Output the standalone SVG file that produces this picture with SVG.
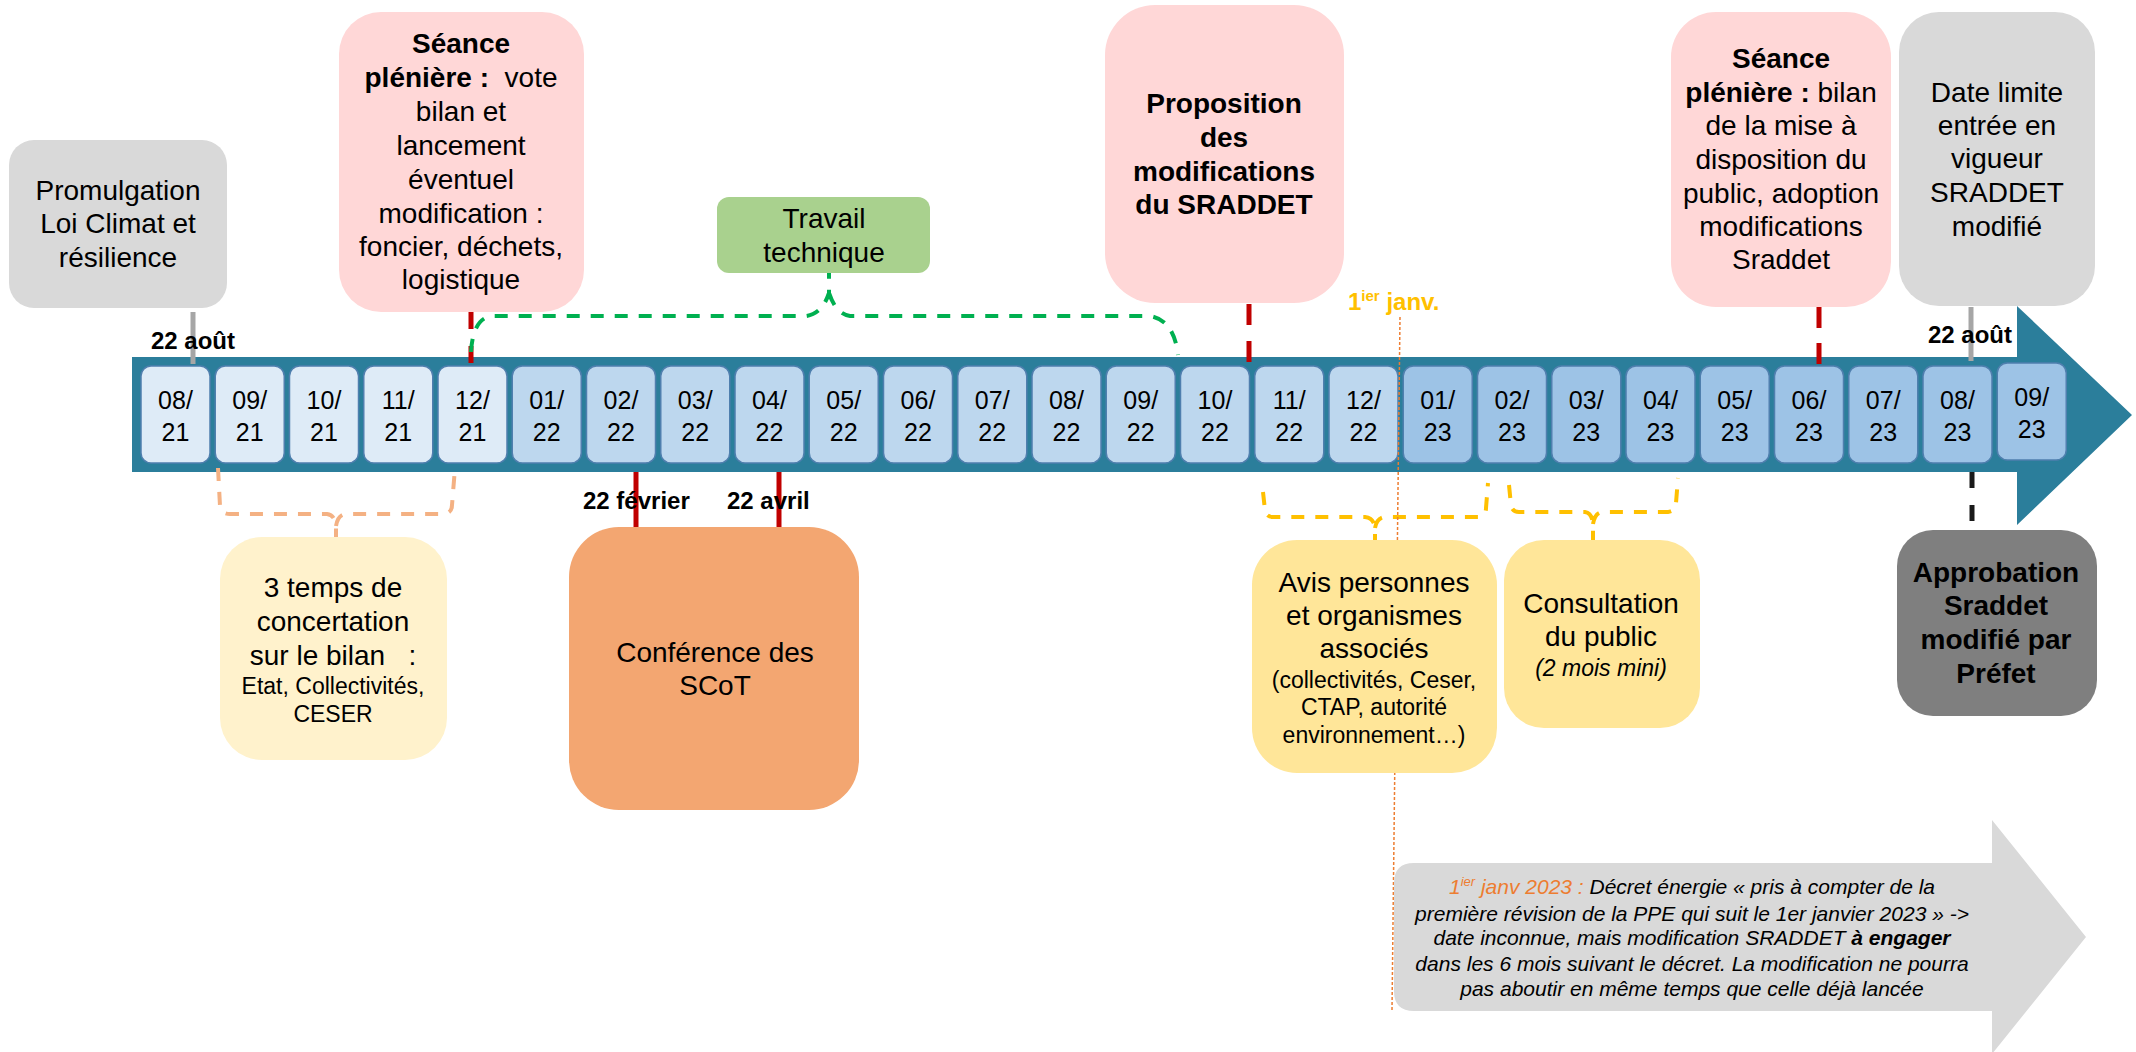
<svg xmlns="http://www.w3.org/2000/svg" width="2136" height="1052" viewBox="0 0 2136 1052">
<style>
text{font-family:"Liberation Sans",Arial,sans-serif;fill:#000}
.t28{font-size:28px;text-anchor:middle}
.t23{font-size:23px;text-anchor:middle}
.b{font-weight:bold}
.cell text{font-size:25px;text-anchor:middle}
.c21{fill:#deebf7;stroke:#4f7fae;stroke-width:1.5}
.c22{fill:#bdd7ee;stroke:#4f7fae;stroke-width:1.5}
.c23{fill:#9dc3e6;stroke:#4f7fae;stroke-width:1.5}
.red{stroke:#c00000;stroke-width:5;fill:none}
.gry{stroke:#a6a6a6;stroke-width:5;fill:none}
.blk{stroke:#1a1a1a;stroke-width:5;fill:none;stroke-dasharray:16 17}
.br{fill:none;stroke-width:4;stroke-dasharray:13 11}
.lbl{font-size:24px;font-weight:bold}
</style>

<g id="timeline">
<path d="M132,357 L2017,357 L2017,306 L2132,415 L2017,525 L2017,472 L132,472 Z" fill="#2b7e9b"/>
<g class="cell">
<rect class="c21" x="141" y="366" width="69" height="97" rx="10"/><text x="175.5" y="409">08/</text><text x="175.5" y="441">21</text>
<rect class="c21" x="215.25" y="366" width="69" height="97" rx="10"/><text x="249.75" y="409">09/</text><text x="249.75" y="441">21</text>
<rect class="c21" x="289.5" y="366" width="69" height="97" rx="10"/><text x="324" y="409">10/</text><text x="324" y="441">21</text>
<rect class="c21" x="363.75" y="366" width="69" height="97" rx="10"/><text x="398.25" y="409">11/</text><text x="398.25" y="441">21</text>
<rect class="c21" x="438" y="366" width="69" height="97" rx="10"/><text x="472.5" y="409">12/</text><text x="472.5" y="441">21</text>
<rect class="c22" x="512.25" y="366" width="69" height="97" rx="10"/><text x="546.75" y="409">01/</text><text x="546.75" y="441">22</text>
<rect class="c22" x="586.5" y="366" width="69" height="97" rx="10"/><text x="621" y="409">02/</text><text x="621" y="441">22</text>
<rect class="c22" x="660.75" y="366" width="69" height="97" rx="10"/><text x="695.25" y="409">03/</text><text x="695.25" y="441">22</text>
<rect class="c22" x="735" y="366" width="69" height="97" rx="10"/><text x="769.5" y="409">04/</text><text x="769.5" y="441">22</text>
<rect class="c22" x="809.25" y="366" width="69" height="97" rx="10"/><text x="843.75" y="409">05/</text><text x="843.75" y="441">22</text>
<rect class="c22" x="883.5" y="366" width="69" height="97" rx="10"/><text x="918" y="409">06/</text><text x="918" y="441">22</text>
<rect class="c22" x="957.75" y="366" width="69" height="97" rx="10"/><text x="992.25" y="409">07/</text><text x="992.25" y="441">22</text>
<rect class="c22" x="1032" y="366" width="69" height="97" rx="10"/><text x="1066.5" y="409">08/</text><text x="1066.5" y="441">22</text>
<rect class="c22" x="1106.25" y="366" width="69" height="97" rx="10"/><text x="1140.75" y="409">09/</text><text x="1140.75" y="441">22</text>
<rect class="c22" x="1180.5" y="366" width="69" height="97" rx="10"/><text x="1215" y="409">10/</text><text x="1215" y="441">22</text>
<rect class="c22" x="1254.75" y="366" width="69" height="97" rx="10"/><text x="1289.25" y="409">11/</text><text x="1289.25" y="441">22</text>
<rect class="c22" x="1329" y="366" width="69" height="97" rx="10"/><text x="1363.5" y="409">12/</text><text x="1363.5" y="441">22</text>
<rect class="c23" x="1403.25" y="366" width="69" height="97" rx="10"/><text x="1437.75" y="409">01/</text><text x="1437.75" y="441">23</text>
<rect class="c23" x="1477.5" y="366" width="69" height="97" rx="10"/><text x="1512" y="409">02/</text><text x="1512" y="441">23</text>
<rect class="c23" x="1551.75" y="366" width="69" height="97" rx="10"/><text x="1586.25" y="409">03/</text><text x="1586.25" y="441">23</text>
<rect class="c23" x="1626" y="366" width="69" height="97" rx="10"/><text x="1660.5" y="409">04/</text><text x="1660.5" y="441">23</text>
<rect class="c23" x="1700.25" y="366" width="69" height="97" rx="10"/><text x="1734.75" y="409">05/</text><text x="1734.75" y="441">23</text>
<rect class="c23" x="1774.5" y="366" width="69" height="97" rx="10"/><text x="1809" y="409">06/</text><text x="1809" y="441">23</text>
<rect class="c23" x="1848.75" y="366" width="69" height="97" rx="10"/><text x="1883.25" y="409">07/</text><text x="1883.25" y="441">23</text>
<rect class="c23" x="1923" y="366" width="69" height="97" rx="10"/><text x="1957.5" y="409">08/</text><text x="1957.5" y="441">23</text>
<rect class="c23" x="1997.25" y="363" width="69" height="97" rx="10"/><text x="2031.75" y="406">09/</text><text x="2031.75" y="438">23</text>
</g>
</g>

<g id="connectors">
<line class="gry" x1="193" y1="312" x2="193" y2="364"/>
<line class="red" x1="471" y1="312" x2="471" y2="364" stroke-dasharray="17 17"/>
<line class="red" x1="1249" y1="304" x2="1249" y2="362" stroke-dasharray="21 16"/>
<line class="red" x1="1819" y1="307" x2="1819" y2="364" stroke-dasharray="21 15"/>
<line class="gry" x1="1971" y1="307" x2="1971" y2="361"/>
<line class="red" x1="636" y1="472" x2="636" y2="529"/>
<line class="red" x1="779" y1="472" x2="779" y2="529"/>
<line class="blk" x1="1972" y1="472" x2="1972" y2="526"/>
<path class="br" stroke="#00b050" d="M471,352 Q473,318 492,316 L806,316 Q822,314 829,293 L829,273 M829,293 Q836,314 850,316 L1150,316 Q1174,320 1178,355"/>
<path class="br" stroke="#f4b183" d="M218,468 L220,506 Q221,514 230,514 L327,514 Q335,515 336,526 L336,537 M336,526 Q338,514 347,514 L444,514 Q452,513 452,505 L455,468"/>
<path class="br" stroke="#ffc000" d="M1263,492 L1265,510 Q1266,517 1273,517 L1365,517 Q1374,518 1375,528 L1375,540 M1375,528 Q1377,517 1386,517 L1478,517 Q1486,516 1486,508 L1488,483"/>
<path class="br" stroke="#ffc000" d="M1509,485 L1511,505 Q1512,512 1519,512 L1585,512 Q1592,513 1593,524 L1593,540 M1593,524 Q1595,512 1603,512 L1668,512 Q1676,511 1676,503 L1678,478"/>
<line x1="1400" y1="317" x2="1392" y2="1010" stroke="#ed7d31" stroke-width="1.5" stroke-dasharray="3 2"/>
</g>

<g id="date-labels">
<text class="lbl" x="151" y="349">22 août</text>
<text class="lbl" x="1928" y="343">22 août</text>
<text class="lbl" x="583" y="509">22 février</text>
<text class="lbl" x="727" y="509">22 avril</text>
<text class="lbl" x="1348" y="310" style="fill:#ffc000">1<tspan font-size="15" dy="-9">ier</tspan><tspan dy="9"> janv.</tspan></text>
</g>

<g id="promulgation">
<rect x="9" y="140" width="218" height="168" rx="25" fill="#d9d9d9"/>
<text class="t28" x="118" y="200">Promulgation</text>
<text class="t28" x="118" y="233">Loi Climat et</text>
<text class="t28" x="118" y="267">résilience</text>
</g>

<g id="seance1">
<rect x="339" y="12" width="245" height="300" rx="42" fill="#ffd7d7"/>
<text class="t28 b" x="461" y="53">Séance</text>
<text class="t28" x="461" y="87" xml:space="preserve"><tspan font-weight="bold">plénière :</tspan>  vote</text>
<text class="t28" x="461" y="121">bilan et</text>
<text class="t28" x="461" y="155">lancement</text>
<text class="t28" x="461" y="189">éventuel</text>
<text class="t28" x="461" y="223">modification :</text>
<text class="t28" x="461" y="256">foncier, déchets,</text>
<text class="t28" x="461" y="289">logistique</text>
</g>

<g id="travail">
<rect x="717" y="197" width="213" height="76" rx="12" fill="#a9d18e"/>
<text class="t28" x="824" y="228">Travail</text>
<text class="t28" x="824" y="262">technique</text>
</g>

<g id="proposition">
<rect x="1105" y="5" width="239" height="298" rx="50" fill="#ffd7d7"/>
<text class="t28 b" x="1224" y="113">Proposition</text>
<text class="t28 b" x="1224" y="147">des</text>
<text class="t28 b" x="1224" y="181">modifications</text>
<text class="t28 b" x="1224" y="214">du SRADDET</text>
</g>

<g id="seance2">
<rect x="1671" y="12" width="220" height="295" rx="45" fill="#ffd7d7"/>
<text class="t28 b" x="1781" y="68">Séance</text>
<text class="t28" x="1781" y="102"><tspan font-weight="bold">plénière :</tspan> bilan</text>
<text class="t28" x="1781" y="135">de la mise à</text>
<text class="t28" x="1781" y="169">disposition du</text>
<text class="t28" x="1781" y="203">public, adoption</text>
<text class="t28" x="1781" y="236">modifications</text>
<text class="t28" x="1781" y="269">Sraddet</text>
</g>

<g id="date-limite">
<rect x="1899" y="12" width="196" height="294" rx="40" fill="#d9d9d9"/>
<text class="t28" x="1997" y="102">Date limite</text>
<text class="t28" x="1997" y="135">entrée en</text>
<text class="t28" x="1997" y="168">vigueur</text>
<text class="t28" x="1997" y="202">SRADDET</text>
<text class="t28" x="1997" y="236">modifié</text>
</g>

<g id="concertation">
<rect x="220" y="537" width="227" height="223" rx="42" fill="#fff2cc"/>
<text class="t28" x="333" y="597">3 temps de</text>
<text class="t28" x="333" y="631">concertation</text>
<text class="t28" x="333" y="665" xml:space="preserve">sur le bilan   :</text>
<text class="t23" x="333" y="694">Etat, Collectivités,</text>
<text class="t23" x="333" y="722">CESER</text>
</g>

<g id="conference">
<rect x="569" y="527" width="290" height="283" rx="50" fill="#f3a671"/>
<text class="t28" x="715" y="662">Conférence des</text>
<text class="t28" x="715" y="695">SCoT</text>
</g>

<g id="avis">
<rect x="1252" y="540" width="245" height="233" rx="45" fill="#ffe699"/>
<text class="t28" x="1374" y="592">Avis personnes</text>
<text class="t28" x="1374" y="625">et organismes</text>
<text class="t28" x="1374" y="658">associés</text>
<text class="t23" x="1374" y="688">(collectivités, Ceser,</text>
<text class="t23" x="1374" y="715">CTAP, autorité</text>
<text class="t23" x="1374" y="743">environnement…)</text>
</g>

<g id="consultation">
<rect x="1504" y="540" width="196" height="188" rx="40" fill="#ffe699"/>
<text class="t28" x="1601" y="613">Consultation</text>
<text class="t28" x="1601" y="646">du public</text>
<text class="t23" x="1601" y="676" font-style="italic">(2 mois mini)</text>
</g>

<g id="approbation">
<rect x="1897" y="530" width="200" height="186" rx="36" fill="#7f7f7f"/>
<text class="t28 b" x="1996" y="582">Approbation</text>
<text class="t28 b" x="1996" y="615">Sraddet</text>
<text class="t28 b" x="1996" y="649">modifié par</text>
<text class="t28 b" x="1996" y="683">Préfet</text>
</g>

<g id="decret">
<path d="M1414,863 L1992,863 L1992,820 L2086,937 L1992,1054 L1992,1011 L1414,1011 Q1394,1011 1394,991 L1394,883 Q1394,863 1414,863 Z" fill="#d9d9d9"/>
<g font-size="21" font-style="italic" text-anchor="middle">
<text x="1692" y="894"><tspan style="fill:#ed7d31">1<tspan font-size="13" dy="-8">ier</tspan><tspan dy="8"> janv 2023 : </tspan></tspan>Décret énergie « pris à compter de la</text>
<text x="1692" y="921">première révision de la PPE qui suit le 1er janvier 2023 » -&gt;</text>
<text x="1692" y="945">date inconnue, mais modification SRADDET <tspan font-weight="bold">à engager</tspan></text>
<text x="1692" y="971">dans les 6 mois suivant le décret. La modification ne pourra</text>
<text x="1692" y="996">pas aboutir en même temps que celle déjà lancée</text>
</g>
</g>
</svg>
